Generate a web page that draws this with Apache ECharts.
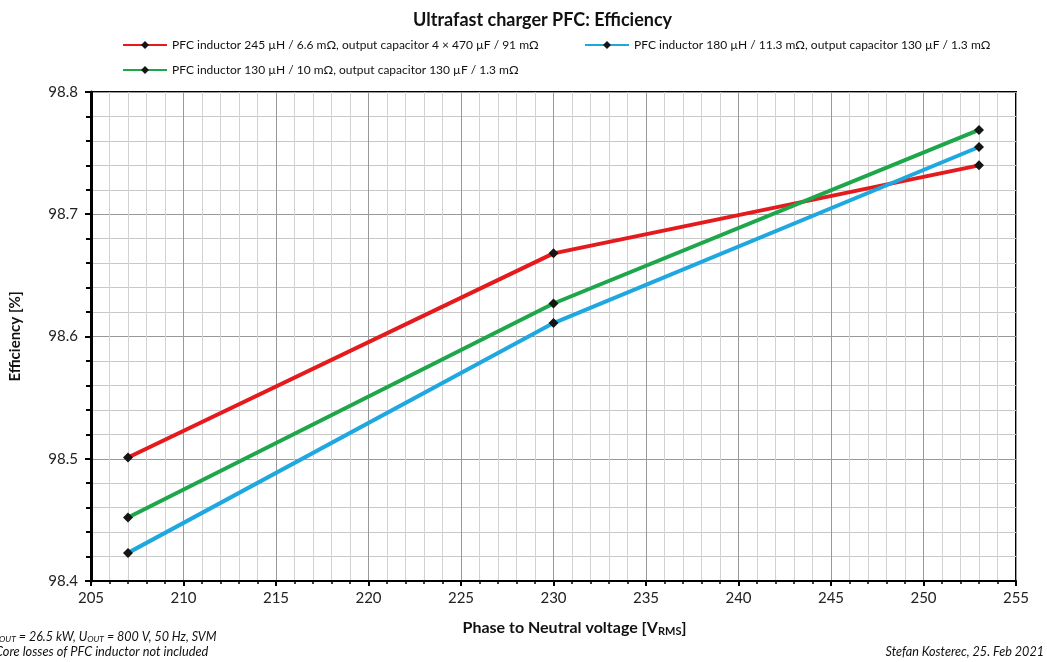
<!DOCTYPE html>
<html><head><meta charset="utf-8">
<script src="https://cdn.jsdelivr.net/npm/echarts@6/dist/echarts.min.js"></script>
<style>html,body{margin:0;padding:0;background:#fff}#c{width:1047px;height:662px}</style>
</head><body><div id="c"></div>
<script>
var voltage = [207, 230, 253];
var nameRed = 'PFC inductor 245 µH / 6.6 mΩ, output capacitor 4 × 470 µF / 91 mΩ';
var nameBlue = 'PFC inductor 180 µH / 11.3 mΩ, output capacitor 130 µF / 1.3 mΩ';
var nameGreen = 'PFC inductor 130 µH / 10 mΩ, output capacitor 130 µF / 1.3 mΩ';
var effRed = [98.501, 98.668, 98.740];
var effBlue = [98.423, 98.611, 98.755];
var effGreen = [98.452, 98.627, 98.769];

var FONT = 'Lato, "Open Sans", sans-serif';
function pairs(xs, ys){ return xs.map(function(x,i){return [x, ys[i]];}); }
function mk(name, ys, color){
  return {name:name, type:'line', data:pairs(voltage, ys), symbol:'diamond', symbolSize:10,
    lineStyle:{color:color, width:4}, itemStyle:{color:'#151515', borderColor:color, borderWidth:0},
    emphasis:{disabled:true}, z:3};
}
var chart = echarts.init(document.getElementById('c'), null, {renderer:'canvas'});
var legendBase = {orient:'horizontal', itemWidth:44, itemHeight:10, itemGap:10,
  textStyle:{fontFamily:FONT, fontSize:12, color:'#111'}, padding:0, selectedMode:false};
chart.setOption({
  animation:false,
  backgroundColor:'#fff',
  title:{text:'Ultrafast charger PFC: Efficiency', left:408, top:6,
    textStyle:{fontFamily:FONT, fontSize:18, fontWeight:'bold', color:'#111'}},
  legend:[
    Object.assign({}, legendBase, {data:[nameRed], left:122, top:39}),
    Object.assign({}, legendBase, {data:[nameBlue], left:584, top:39}),
    Object.assign({}, legendBase, {data:[nameGreen], left:122, top:64})
  ],
  grid:{left:88, right:31, top:92, bottom:81, show:true, borderColor:'#000', borderWidth:2},
  xAxis:{type:'value', min:205, max:255, interval:5,
    name:'{b|Phase to Neutral voltage [V}{s|RMS}{b|]}', nameLocation:'middle', nameGap:38,
    nameTextStyle:{padding:[0,0,0,42], rich:{
      b:{fontFamily:FONT, fontSize:16, fontWeight:'bold', color:'#111'},
      s:{fontFamily:FONT, fontSize:11, fontWeight:'bold', color:'#111', padding:[7,0,0,0]}}},
    axisLine:{show:true, lineStyle:{color:'#000', width:2}},
    axisTick:{show:true, length:5, lineStyle:{color:'#000', width:2}},
    minorTick:{show:true, splitNumber:5, length:3, lineStyle:{color:'#000', width:1.5}},
    axisLabel:{fontFamily:FONT, fontSize:15, color:'#222', margin:10},
    splitLine:{show:true, lineStyle:{color:'#999', width:1}},
    minorSplitLine:{show:true, lineStyle:{color:'#d2d2d2', width:1}}
  },
  yAxis:{type:'value', min:98.4, max:98.8, interval:0.1,
    name:'Efficiency [%]', nameLocation:'middle', nameGap:68, nameRotate:90,
    nameTextStyle:{fontFamily:FONT, fontSize:15, fontWeight:'bold', color:'#111'},
    axisLine:{show:true, lineStyle:{color:'#000', width:3}},
    axisTick:{show:true, length:6, lineStyle:{color:'#000', width:2}},
    minorTick:{show:true, splitNumber:5, length:5, lineStyle:{color:'#000', width:2}},
    axisLabel:{fontFamily:FONT, fontSize:15, color:'#222', margin:13,
      formatter:function(v){return v.toFixed(1);}},
    splitLine:{show:true, lineStyle:{color:'#999', width:1}},
    minorSplitLine:{show:true, lineStyle:{color:'#c8c8c8', width:1}}
  },
  graphic:[
    {type:'text', left:-8, top:630, style:{
      text:'{i|P}{s|OUT}{i| = 26.5 kW, U}{s|OUT}{i| = 800 V, 50 Hz, SVM}',
      rich:{i:{fontFamily:FONT, fontSize:12.5, fontStyle:'italic', fill:'#111'},
            s:{fontFamily:FONT, fontSize:8.5, fontStyle:'italic', fill:'#111', padding:[5,0,0,0]}}}},
    {type:'text', left:-5, top:645, style:{text:'Core losses of PFC inductor not included',
      font:'italic 12.8px Lato, sans-serif', fill:'#111'}},
    {type:'text', right:3, top:645, style:{text:'Stefan Kosterec, 25. Feb 2021',
      font:'italic 12.6px Lato, sans-serif', fill:'#111'}}
  ],
  series:[ mk(nameRed, effRed, '#e41a1c'), mk(nameBlue, effBlue, '#1fa8e0'), mk(nameGreen, effGreen, '#1da64a') ]
});
</script></body></html>
